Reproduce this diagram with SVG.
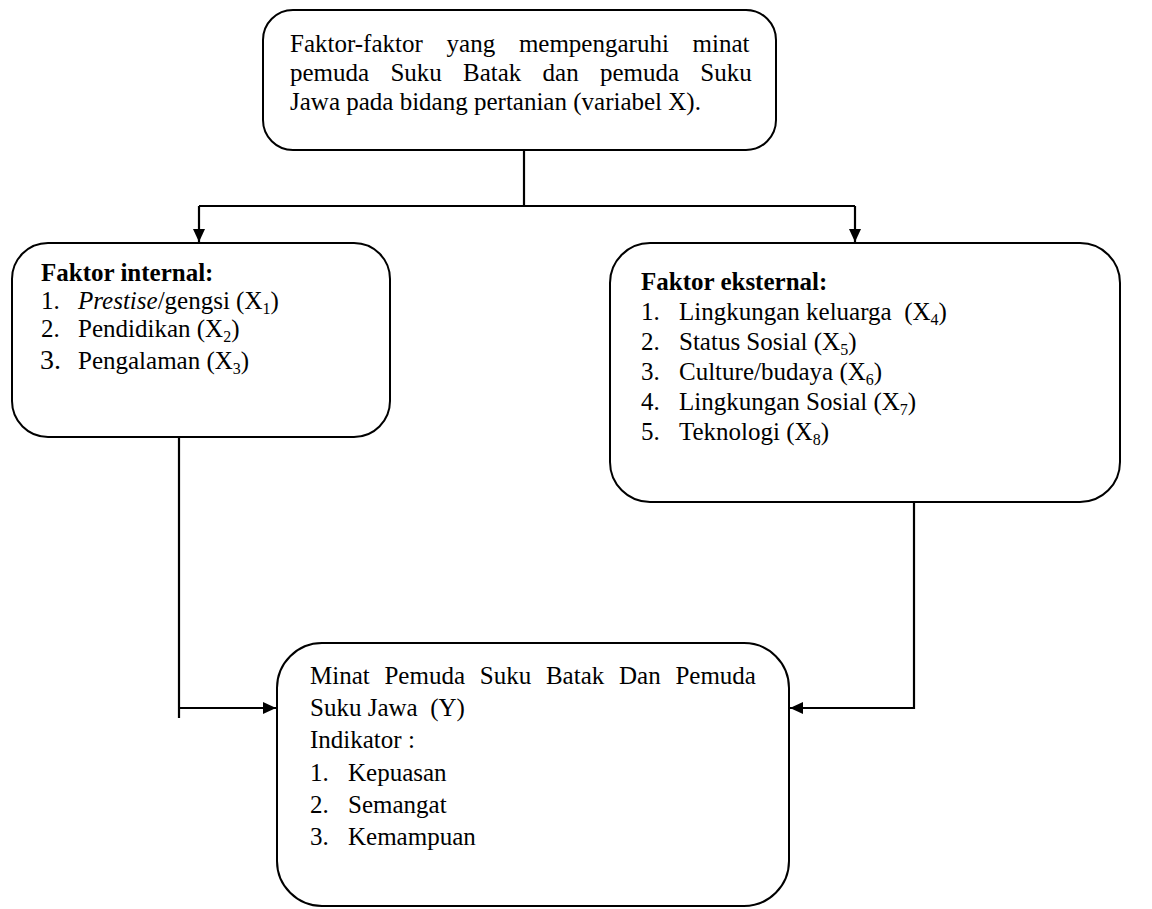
<svg xmlns="http://www.w3.org/2000/svg" width="1152" height="909" viewBox="0 0 1152 909">
<defs>
<style>
.box{fill:#fff;stroke:#000;stroke-width:2}
.t{font-family:"Liberation Serif","Times New Roman",serif;font-size:25px;fill:#000}
.b{font-weight:bold}
.big{font-size:28px}
.sub{font-size:16px}
.con{fill:none;stroke:#000;stroke-width:2.2}
</style>
<marker id="arr" markerWidth="13" markerHeight="12" refX="13" refY="6" orient="auto" markerUnits="userSpaceOnUse">
<path d="M0,0 L13,6 L0,12 Z" fill="#000"/>
</marker>
</defs>
<rect width="1152" height="909" fill="#fff"/>
<g id="connectors">
<path class="con" d="M524,150 V206"/>
<path class="con" d="M199,206 H855"/>
<path class="con" d="M199,206 V242" marker-end="url(#arr)"/>
<path class="con" d="M855,206 V242" marker-end="url(#arr)"/>
<path class="con" d="M179,437 V718"/>
<path class="con" d="M179,708 H276" marker-end="url(#arr)"/>
<path class="con" d="M914,502 V708 H790" marker-end="url(#arr)"/>
</g>
<g id="node-top">
<rect class="box" x="263" y="10" width="513" height="140" rx="30"/>
<text class="t" x="290" y="52" word-spacing="17.5">Faktor-faktor yang mempengaruhi minat</text>
<text class="t" x="290" y="81" word-spacing="15">pemuda Suku Batak dan pemuda Suku</text>
<text class="t" x="290" y="110">Jawa pada bidang pertanian (variabel X).</text>
</g>
<g id="node-internal">
<rect class="box" x="12" y="243" width="378" height="194" rx="36"/>
<text class="t b" x="41" y="281">Faktor internal:</text>
<text class="t" x="41" y="309">1.</text>
<text class="t" x="78" y="309"><tspan font-style="italic">Prestise</tspan>/gengsi (X<tspan class="sub" dy="5">1</tspan><tspan dy="-5">)</tspan></text>
<text class="t" x="41" y="337">2.</text>
<text class="t" x="78" y="337">Pendidikan (X<tspan class="sub" dy="5">2</tspan><tspan dy="-5">)</tspan></text>
<text class="t big" x="40" y="369">3.</text>
<text class="t" x="78" y="369">Pengalaman (X<tspan class="sub" dy="5">3</tspan><tspan dy="-5">)</tspan></text>
</g>
<g id="node-external">
<rect class="box" x="610" y="243" width="510" height="259" rx="40"/>
<text class="t b" x="641" y="290">Faktor eksternal:</text>
<text class="t" x="641" y="320">1.</text>
<text class="t" x="679" y="320" xml:space="preserve">Lingkungan keluarga  (X<tspan class="sub" dy="5">4</tspan><tspan dy="-5">)</tspan></text>
<text class="t" x="641" y="350">2.</text>
<text class="t" x="679" y="350">Status Sosial (X<tspan class="sub" dy="5">5</tspan><tspan dy="-5">)</tspan></text>
<text class="t" x="641" y="380">3.</text>
<text class="t" x="679" y="380">Culture/budaya (X<tspan class="sub" dy="5">6</tspan><tspan dy="-5">)</tspan></text>
<text class="t" x="641" y="410">4.</text>
<text class="t" x="679" y="410">Lingkungan Sosial (X<tspan class="sub" dy="5">7</tspan><tspan dy="-5">)</tspan></text>
<text class="t" x="641" y="440">5.</text>
<text class="t" x="679" y="440">Teknologi (X<tspan class="sub" dy="5">8</tspan><tspan dy="-5">)</tspan></text>
</g>
<g id="node-minat">
<rect class="box" x="277" y="643" width="512" height="263" rx="45"/>
<text class="t" x="310" y="684" word-spacing="8.5">Minat Pemuda Suku Batak Dan Pemuda</text>
<text class="t" x="310" y="716" xml:space="preserve">Suku Jawa  (Y)</text>
<text class="t" x="310" y="748">Indikator :</text>
<text class="t" x="310" y="781">1.</text>
<text class="t" x="348" y="781">Kepuasan</text>
<text class="t" x="310" y="813">2.</text>
<text class="t" x="348" y="813">Semangat</text>
<text class="t" x="310" y="845">3.</text>
<text class="t" x="348" y="845">Kemampuan</text>
</g>
</svg>
